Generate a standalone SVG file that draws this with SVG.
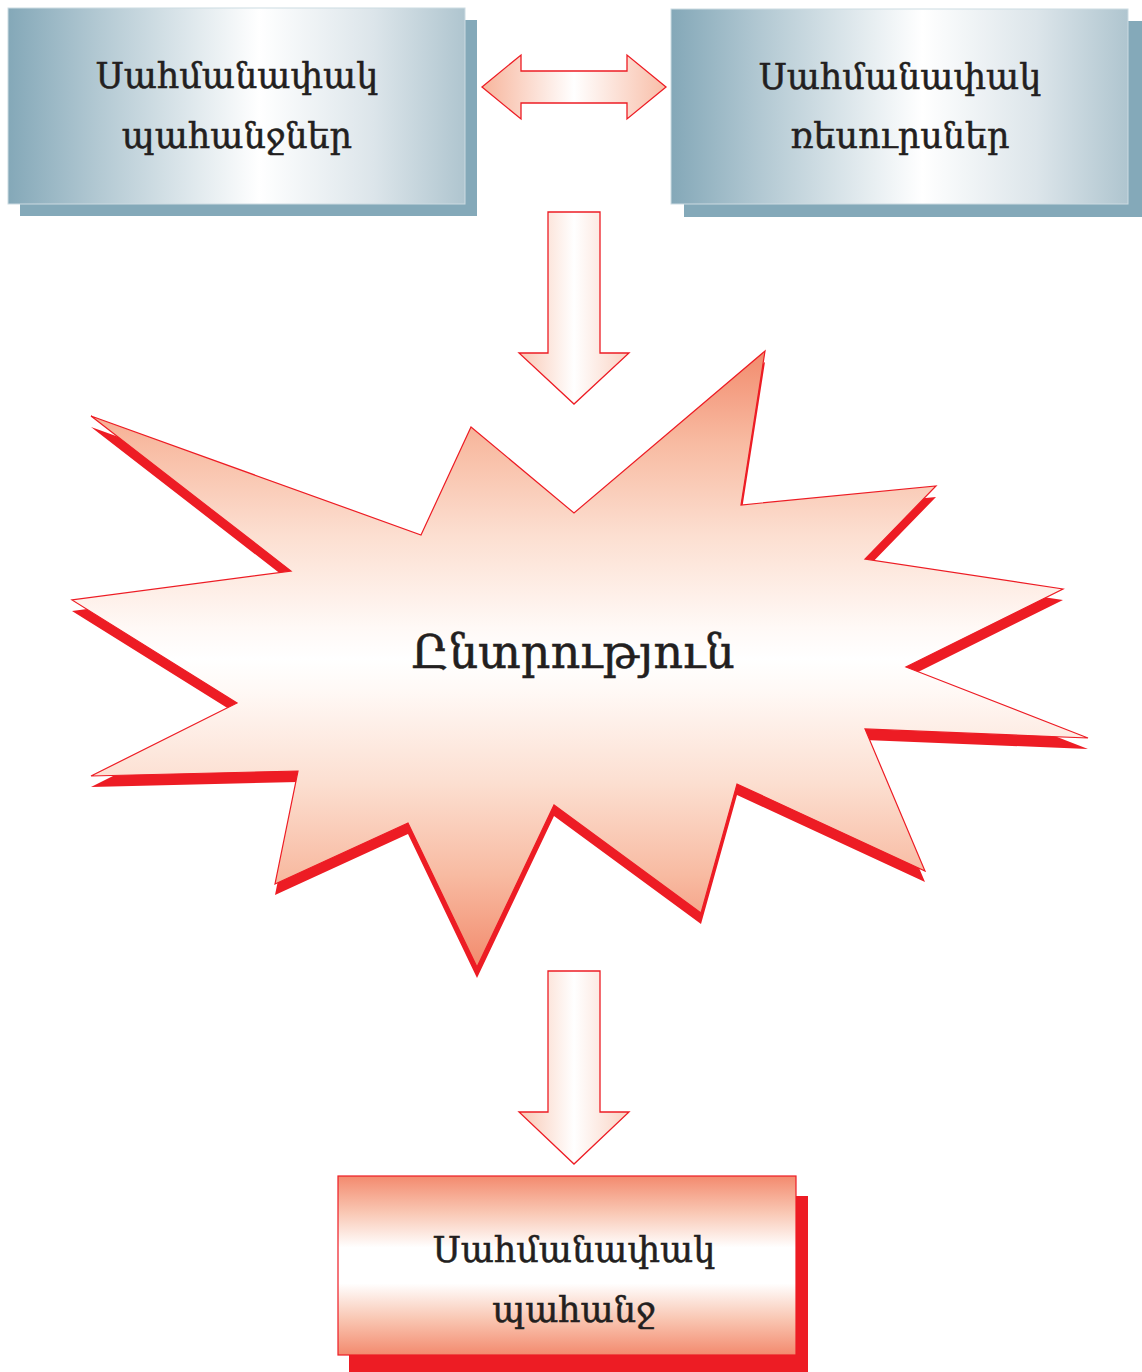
<svg xmlns="http://www.w3.org/2000/svg" width="1142" height="1372" viewBox="0 0 1142 1372">
<defs>
  <linearGradient id="gBlue" x1="0" y1="0" x2="1" y2="0">
    <stop offset="0" stop-color="#84A8B8"/>
    <stop offset="0.2" stop-color="#B3C9D3"/>
    <stop offset="0.55" stop-color="#FFFFFF"/>
    <stop offset="0.8" stop-color="#DCE5EA"/>
    <stop offset="1" stop-color="#AFC5CF"/>
  </linearGradient>
  <linearGradient id="gBurst" gradientUnits="userSpaceOnUse" x1="0" y1="351" x2="0" y2="967">
    <stop offset="0" stop-color="#F28B6D"/>
    <stop offset="0.15" stop-color="#F8BBA2"/>
    <stop offset="0.3" stop-color="#FCDFD1"/>
    <stop offset="0.45" stop-color="#FFF9F6"/>
    <stop offset="0.5" stop-color="#FFFFFF"/>
    <stop offset="0.55" stop-color="#FFF9F6"/>
    <stop offset="0.7" stop-color="#FCDFD1"/>
    <stop offset="0.85" stop-color="#F8BBA2"/>
    <stop offset="1" stop-color="#F28B6D"/>
  </linearGradient>
  <linearGradient id="gBox" x1="0" y1="0" x2="0" y2="1">
    <stop offset="0" stop-color="#F38A6E"/>
    <stop offset="0.2" stop-color="#F9C6B2"/>
    <stop offset="0.4" stop-color="#FFFFFF"/>
    <stop offset="0.6" stop-color="#FFFFFF"/>
    <stop offset="0.8" stop-color="#F9C6B2"/>
    <stop offset="1" stop-color="#F38A6E"/>
  </linearGradient>
  <linearGradient id="gArrowH" x1="0" y1="0" x2="1" y2="0">
    <stop offset="0" stop-color="#F7B59C"/>
    <stop offset="0.5" stop-color="#FFFFFF"/>
    <stop offset="1" stop-color="#F8BEA8"/>
  </linearGradient>
  <linearGradient id="gArrowV" x1="0" y1="0" x2="1" y2="0">
    <stop offset="0" stop-color="#F9C8B4"/>
    <stop offset="0.5" stop-color="#FFFFFF"/>
    <stop offset="1" stop-color="#FAD2C2"/>
  </linearGradient>
  <polygon id="burst" points="91,416 421,535 471,427 574,513 765,351 741,505 936,486 865,559 1063,589 906,667 1088,738 865,729 925,871 737,784 701,913 554,805 477,967 408,823 275,884 298,771 91,776 237,703 72,600 291,571"/>
</defs>
<style>
  .lbl { font-family: "DejaVu Serif", "Liberation Serif", serif; fill: #231F20; stroke: #231F20; stroke-width: 0.5; text-anchor: middle; }
  .box-lbl { font-size: 35px; }
  .burst-lbl { font-size: 46px; }
  .blue-shadow { fill: #84A9B9; }
  .blue-box { fill: url(#gBlue); stroke: #CCDBE2; stroke-width: 1; }
  .red-shadow { fill: #ED1C24; }
  .arrow { stroke: #ED1C24; stroke-width: 1.3; stroke-linejoin: miter; }
</style>

<g id="node-requirements">
  <rect class="blue-shadow" x="20" y="20" width="457" height="196"/>
  <rect class="blue-box" x="8" y="8" width="457" height="196"/>
  <text class="lbl box-lbl" x="237" y="88">Սահմանափակ</text>
  <text class="lbl box-lbl" x="237" y="148">պահանջներ</text>
</g>

<g id="node-resources">
  <rect class="blue-shadow" x="684" y="21" width="458" height="196"/>
  <rect class="blue-box" x="671" y="9" width="457" height="195"/>
  <text class="lbl box-lbl" x="900" y="89">Սահմանափակ</text>
  <text class="lbl box-lbl" x="900" y="148">ռեսուրսներ</text>
</g>

<g id="node-choice">
  <use href="#burst" class="red-shadow" transform="translate(0,11)"/>
  <use href="#burst" fill="url(#gBurst)" stroke="#ED1C24" stroke-width="1.2" stroke-linejoin="miter"/>
  <text class="lbl burst-lbl" x="573" y="668">Ընտրություն</text>
</g>

<g id="node-result">
  <rect class="red-shadow" x="349" y="1196" width="459" height="180"/>
  <rect x="338" y="1176" width="458" height="179" fill="url(#gBox)" stroke="#ED1C24" stroke-width="1.2"/>
  <text class="lbl box-lbl" x="574" y="1262">Սահմանափակ</text>
  <text class="lbl box-lbl" x="574" y="1322">պահանջ</text>
</g>

<g id="connectors">
  <polygon class="arrow" fill="url(#gArrowH)" points="482,87 521,55 521,71 627,71 627,55 666,87 627,119 627,103 521,103 521,119"/>
  <polygon class="arrow" fill="url(#gArrowV)" points="548,212 600,212 600,353 629,353 574,404 519,353 548,353"/>
  <polygon class="arrow" fill="url(#gArrowV)" points="548,971 600,971 600,1112 629,1112 574,1164 519,1112 548,1112"/>
</g>
</svg>
